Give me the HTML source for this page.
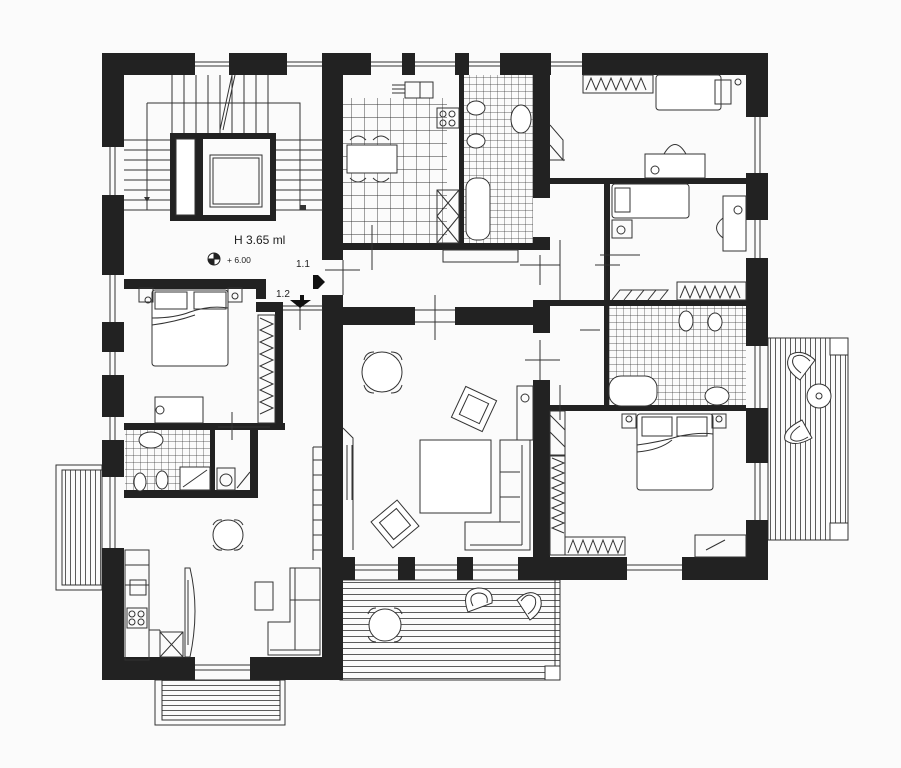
<!DOCTYPE html>
<html><head><meta charset="utf-8"><style>
html,body{margin:0;padding:0;background:#fbfbfb;}
svg{display:block;}
</style></head><body>
<svg width="901" height="768" viewBox="0 0 901 768" xmlns="http://www.w3.org/2000/svg" font-family="Liberation Sans, sans-serif">
<defs>
<pattern id="tile" width="13" height="13" patternUnits="userSpaceOnUse"><path d="M0 0H13M0 0V13" stroke="#333" stroke-width="0.9" fill="none"/></pattern>
<pattern id="tile2" width="7" height="7" patternUnits="userSpaceOnUse"><path d="M0 0H7M0 0V7" stroke="#333" stroke-width="0.7" fill="none"/></pattern>
<pattern id="hs" width="10" height="6" patternUnits="userSpaceOnUse"><path d="M0 0.5H10" stroke="#333" stroke-width="0.8"/></pattern>
<pattern id="vs" width="5" height="10" patternUnits="userSpaceOnUse"><path d="M0.5 0V10" stroke="#333" stroke-width="0.8"/></pattern>
<pattern id="hs2" width="10" height="5" patternUnits="userSpaceOnUse"><path d="M0 0.5H10" stroke="#333" stroke-width="0.8"/></pattern>
</defs>
<rect width="901" height="768" fill="#fbfbfb"/>

<rect x="56" y="465" width="46" height="125" fill="none" stroke="#333"/>
<rect x="62" y="470" width="40" height="115" fill="url(#vs)" stroke="#333"/>
<rect x="155" y="680" width="130" height="45" fill="none" stroke="#333"/>
<rect x="162" y="680" width="118" height="40" fill="url(#hs2)" stroke="#333"/>
<rect x="340" y="580" width="220" height="100" fill="url(#hs)" stroke="#333"/>
<line x1="555" y1="580" x2="555" y2="678" stroke="#333"/>
<rect x="545" y="666" width="15" height="14" fill="#fff" stroke="#333"/>
<rect x="768" y="338" width="80" height="202" fill="url(#vs)" stroke="#333"/>
<rect x="830" y="338" width="18" height="17" fill="#fff" stroke="#333"/>
<rect x="830" y="523" width="18" height="17" fill="#fff" stroke="#333"/>

<rect x="343" y="98" width="104" height="145" fill="url(#tile)"/>
<rect x="464" y="75" width="69" height="168" fill="url(#tile2)"/>
<rect x="608" y="306" width="138" height="102" fill="url(#tile2)"/>
<rect x="125" y="430" width="87" height="62" fill="url(#tile2)"/>

<g fill="#222">
<rect x="102" y="53" width="93" height="22"/>
<rect x="229" y="53" width="58" height="22"/>
<rect x="322" y="53" width="49" height="22"/>
<rect x="402" y="53" width="13" height="22"/>
<rect x="455" y="53" width="14" height="22"/>
<rect x="500" y="53" width="51" height="22"/>
<rect x="582" y="53" width="186" height="22"/>
<rect x="102" y="53" width="22" height="94"/>
<rect x="102" y="195" width="22" height="80"/>
<rect x="102" y="322" width="22" height="30"/>
<rect x="102" y="375" width="22" height="42"/>
<rect x="102" y="440" width="22" height="37"/>
<rect x="102" y="548" width="22" height="132"/>
<rect x="102" y="657" width="93" height="23"/>
<rect x="250" y="657" width="93" height="23"/>
<rect x="322" y="53" width="21" height="207"/>
<rect x="322" y="295" width="21" height="385"/>
<rect x="746" y="53" width="22" height="64"/>
<rect x="746" y="173" width="22" height="47"/>
<rect x="746" y="258" width="22" height="88"/>
<rect x="746" y="408" width="22" height="55"/>
<rect x="746" y="520" width="22" height="60"/>
<rect x="343" y="557" width="12" height="23"/>
<rect x="398" y="557" width="17" height="23"/>
<rect x="457" y="557" width="16" height="23"/>
<rect x="518" y="557" width="109" height="23"/>
<rect x="682" y="557" width="86" height="23"/>
<rect x="124" y="279" width="142" height="10"/>
<rect x="256" y="279" width="10" height="20"/>
<rect x="256" y="302" width="27" height="10"/>
<rect x="275" y="302" width="8" height="126"/>
<rect x="124" y="423" width="161" height="7"/>
<rect x="210" y="430" width="5" height="65"/>
<rect x="124" y="490" width="134" height="8"/>
<rect x="250" y="425" width="8" height="70"/>
<rect x="170" y="133" width="106" height="6"/>
<rect x="170" y="133" width="6" height="88"/>
<rect x="270" y="133" width="6" height="88"/>
<rect x="170" y="215" width="106" height="6"/>
<rect x="195" y="133" width="8" height="88"/>
<rect x="459" y="75" width="5" height="170"/>
<rect x="343" y="243" width="205" height="7"/>
<rect x="343" y="307" width="72" height="18"/>
<rect x="455" y="307" width="93" height="18"/>
<rect x="533" y="75" width="17" height="40"/>
<rect x="533" y="115" width="17" height="83"/>
<rect x="533" y="237" width="17" height="13"/>
<rect x="533" y="300" width="17" height="33"/>
<rect x="533" y="380" width="17" height="177"/>
<rect x="550" y="178" width="196" height="6"/>
<rect x="604" y="183" width="6" height="120"/>
<rect x="550" y="300" width="196" height="6"/>
<rect x="604" y="303" width="5" height="105"/>
<rect x="550" y="405" width="196" height="6"/>
</g>

<g fill="none" stroke="#333" stroke-width="1">
<path d="M195 62H229M195 66H229M287 62H322M287 66H322M371 62H402M371 66H402M415 62H455M415 66H455M469 62H500M469 66H500M551 62H582M551 66H582"/>
<path d="M110 147V195M115 147V195M110 275V322M115 275V322M110 352V375M115 352V375M110 417V440M115 417V440M110 477V548M115 477V548"/>
<path d="M755 117V173M760 117V173M755 220V258M760 220V258M755 346V408M760 346V408M755 463V520M760 463V520"/>
<path d="M355 565H398M355 570H398M415 565H457M415 570H457M473 565H518M473 570H518M627 565H682M627 570H682M195 665H250M195 670H250"/>
<path d="M147 103H300V210M147 103V210"/>
<path d="M172 75V133M184 75V133M196 75V133M208 75V133M220 75V133M232 75V133M244 75V133M256 75V133M268 75V133"/>
<path d="M124 140H170M124 150H170M124 160H170M124 170H170M124 180H170M124 190H170M124 200H170M124 210H170"/>
<path d="M276 140H323M276 150H323M276 160H323M276 170H323M276 180H323M276 190H323M276 200H323M276 210H323"/>
<path d="M220 130L232 75M223 130L235 75"/>
<rect x="210" y="155" width="52" height="52"/><rect x="213" y="158" width="46" height="46"/>
<rect x="176" y="139" width="19" height="76" fill="#fff"/>
<path d="M283 306H323M283 310H323M300 303V330M343 260V295M325 270H360"/>
<path d="M372 225V270M415 310H455M415 322H455M435 295V340M520 265H560M540 255V285M540 340V380M525 360H560M595 265H620M605 220V300M560 300V240M560 385V420M580 330H600M600 255H640"/>
<rect x="443" y="250" width="75" height="12"/>
<rect x="347" y="145" width="50" height="28" fill="#fff"/>
<rect x="405" y="82" width="28" height="16"/><path d="M420 82V98M392 85H405M392 89H405M392 93H405"/>
<rect x="437" y="108" width="22" height="20"/>
<circle cx="443" cy="114" r="3"/><circle cx="452" cy="114" r="3"/><circle cx="443" cy="123" r="3"/><circle cx="452" cy="123" r="3"/>
<path d="M437 190H459V243H437ZM437 190L459 216M459 190L437 216M437 216L459 243M459 216L437 243"/>
<path d="M350 140Q358 132 366 140M373 140Q381 132 389 140M350 178Q358 186 366 178M373 178Q381 186 389 178"/>
<rect x="466" y="178" width="24" height="62" rx="10" fill="#fff"/>
<ellipse cx="521" cy="119" rx="10" ry="14" fill="#fff"/>
<ellipse cx="476" cy="108" rx="9" ry="7" fill="#fff"/><ellipse cx="476" cy="141" rx="9" ry="7" fill="#fff"/>
<rect x="152" y="290" width="76" height="76" rx="3" fill="#fff"/>
<rect x="155" y="292" width="32" height="17"/><rect x="194" y="292" width="32" height="17"/>
<path d="M152 318Q175 318 190 312Q210 305 228 308M152 325Q175 322 195 315"/>
<rect x="139" y="288" width="14" height="14"/><rect x="228" y="288" width="14" height="14"/>
<rect x="155" y="397" width="48" height="26" fill="#fff"/>
<rect x="258" y="315" width="17" height="108"/>
<path d="M260 318l13 6l-13 6l13 6l-13 6l13 6l-13 6l13 6l-13 6l13 6l-13 6l13 6l-13 6l13 6l-13 6l13 6l-13 6"/>
<circle cx="160" cy="410" r="4"/>
<path d="M232 412V440M218 427H250M248 427H270"/>
<ellipse cx="151" cy="440" rx="12" ry="8" fill="#fff"/>
<ellipse cx="140" cy="482" rx="6" ry="9" fill="#fff"/><ellipse cx="162" cy="480" rx="6" ry="9" fill="#fff"/>
<rect x="180" y="467" width="30" height="23" fill="#fff"/><path d="M183 487L207 470"/>
<rect x="217" y="468" width="18" height="22"/><circle cx="226" cy="480" r="6"/>
<path d="M237 488L250 472"/>
<circle cx="228" cy="535" r="15" fill="#fff"/>
<path d="M213 525Q216 519 222 520M234 520Q240 519 243 525M213 545Q216 551 222 550M234 550Q240 551 243 545"/>
<rect x="125" y="550" width="24" height="35"/><rect x="125" y="565" width="24" height="95"/>
<rect x="130" y="580" width="16" height="15"/><rect x="127" y="608" width="20" height="20"/>
<circle cx="132" cy="614" r="3"/><circle cx="141" cy="614" r="3"/><circle cx="132" cy="622" r="3"/><circle cx="141" cy="622" r="3"/>
<path d="M149 630H160M160 630V657M160 632H183V657H160M160 632L183 657M183 632L160 657"/>
<path d="M185 568H190Q200 610 190 657H185ZM188 580V645"/>
<rect x="255" y="582" width="18" height="28"/>
<path d="M290 568H320V655H268V622H290ZM295 568V650M290 600H320M270 650H320"/>
<path d="M313 447H323M313 460H323M313 475H323M313 490H323M313 505H323M313 520H323M313 535H323M313 550H323M313 447V560"/>
<circle cx="382" cy="372" r="20" fill="#fff"/>
<path d="M364 360Q366 352 374 352M391 352Q400 352 402 360M364 385Q366 393 374 393M391 393Q400 393 402 385"/>
<rect x="420" y="440" width="71" height="73" fill="#fff"/>
<g transform="translate(474 409) rotate(25)"><rect x="-17" y="-17" width="34" height="34" fill="#fff"/><rect x="-11" y="-11" width="22" height="22"/></g>
<g transform="translate(395 524) rotate(-40)"><rect x="-17" y="-17" width="34" height="34" fill="#fff"/><rect x="-11" y="-11" width="22" height="22"/></g>
<path d="M500 440H530V550H465V522H500ZM522 445V545M470 545H522M500 472H520M500 497H520M500 522H520"/>
<rect x="517" y="386" width="16" height="54"/><circle cx="525" cy="398" r="4"/>
<path d="M343 428L353 438V550M347 445V500M352 445V500"/>
<rect x="583" y="75" width="70" height="18"/>
<path d="M586 90l5-12l5 12l5-12l5 12l5-12l5 12l5-12l5 12l5-12l5 12l5-12l5 12"/>
<rect x="656" y="75" width="65" height="35" rx="3" fill="#fff"/>
<rect x="715" y="80" width="16" height="24"/>
<rect x="645" y="154" width="60" height="24" fill="#fff"/><path d="M664 154Q675 135 686 154"/>
<circle cx="655" cy="170" r="4"/>
<path d="M550 125L563 140V160L550 145M550 145L563 160M550 160H565"/>
<rect x="612" y="184" width="77" height="34" rx="3" fill="#fff"/><rect x="615" y="188" width="15" height="24"/>
<rect x="612" y="220" width="20" height="18"/><circle cx="621" cy="230" r="4"/>
<rect x="723" y="196" width="23" height="55" fill="#fff"/><path d="M723 218Q710 228 723 238"/><circle cx="738" cy="210" r="4"/>
<rect x="677" y="282" width="69" height="18"/>
<path d="M680 298l5-12l5 12l5-12l5 12l5-12l5 12l5-12l5 12l5-12l5 12l5-12l5 12"/>
<path d="M612 300L620 290H632L624 300L632 290H644L636 300L644 290H656L648 300L656 290H668L660 300"/>
<rect x="609" y="376" width="48" height="30" rx="12" fill="#fff"/>
<ellipse cx="686" cy="321" rx="7" ry="10" fill="#fff"/><ellipse cx="715" cy="322" rx="7" ry="9" fill="#fff"/>
<ellipse cx="717" cy="396" rx="12" ry="9" fill="#fff"/>
<rect x="637" y="414" width="76" height="76" rx="3" fill="#fff"/>
<rect x="642" y="417" width="30" height="19"/><rect x="677" y="417" width="30" height="19"/>
<path d="M637 445Q660 442 680 436Q700 432 713 434M637 452Q660 450 672 440"/>
<rect x="622" y="414" width="14" height="14"/><rect x="712" y="414" width="14" height="14"/>
<rect x="550" y="411" width="15" height="45"/><path d="M550 415L565 430M550 432L565 447"/>
<rect x="550" y="455" width="15" height="100"/><rect x="565" y="537" width="60" height="18"/>
<path d="M552 458l12 5l-12 5l12 5l-12 5l12 5l-12 5l12 5l-12 5l12 5l-12 5l12 5l-12 5l12 5l-12 5l12 5"/>
<path d="M568 553l5-13l5 13l5-13l5 13l5-13l5 13l5-13l5 13l5-13l5 13l5-13"/>
<rect x="695" y="535" width="51" height="22"/><path d="M706 550L725 540"/>
<circle cx="385" cy="625" r="16" fill="#fff"/>
<path d="M368 614Q370 608 376 608M394 608Q400 608 402 614M368 636Q370 642 376 642M394 642Q400 642 402 636"/>
<path d="M468 612Q460 590 478 588Q494 588 492 603ZM473 606Q467 595 478 593Q489 593 487 603" fill="#fff"/>
<path d="M530 620Q545 610 540 597Q530 587 517 600ZM528 614Q538 607 535 598Q528 591 521 601" fill="#fff"/>
<path d="M800 380Q782 368 790 355Q802 348 815 360ZM801 373Q789 364 794 357Q802 352 810 361" fill="#fff"/>
<path d="M802 420Q782 430 785 440Q795 448 812 438ZM800 426Q789 433 791 439Q797 444 808 437" fill="#fff"/>
<circle cx="819" cy="396" r="12" fill="#fff"/>
</g>
<circle cx="148" cy="300" r="3" fill="none" stroke="#333"/><circle cx="235" cy="296" r="3" fill="none" stroke="#333"/>
<circle cx="738" cy="82" r="3" fill="none" stroke="#333"/><circle cx="629" cy="419" r="3" fill="none" stroke="#333"/><circle cx="719" cy="419" r="3" fill="none" stroke="#333"/>
<circle cx="819" cy="396" r="3" fill="none" stroke="#333"/>
<path d="M147 202L144 197H150Z M300 205H306V210H300Z" fill="#333"/>

<path d="M313 275H318L325 282L318 289H313Z" fill="#111"/>
<path d="M290 300H300V295H304V300H311L300 308Z" fill="#111"/>
<circle cx="214" cy="259" r="6" fill="#fff" stroke="#222"/>
<path d="M208 259H220M214 253V265" stroke="#222"/>
<path d="M214 253A6 6 0 0 1 220 259H214Z M214 265A6 6 0 0 1 208 259H214Z" fill="#222"/>
<text x="234" y="244" font-size="12" fill="#222">H 3.65 ml</text>
<text x="227" y="263" font-size="8.5" fill="#222">+ 6.00</text>
<text x="296" y="267" font-size="10" fill="#222">1.1</text>
<text x="276" y="297" font-size="10" fill="#222">1.2</text>
</svg>
</body></html>
